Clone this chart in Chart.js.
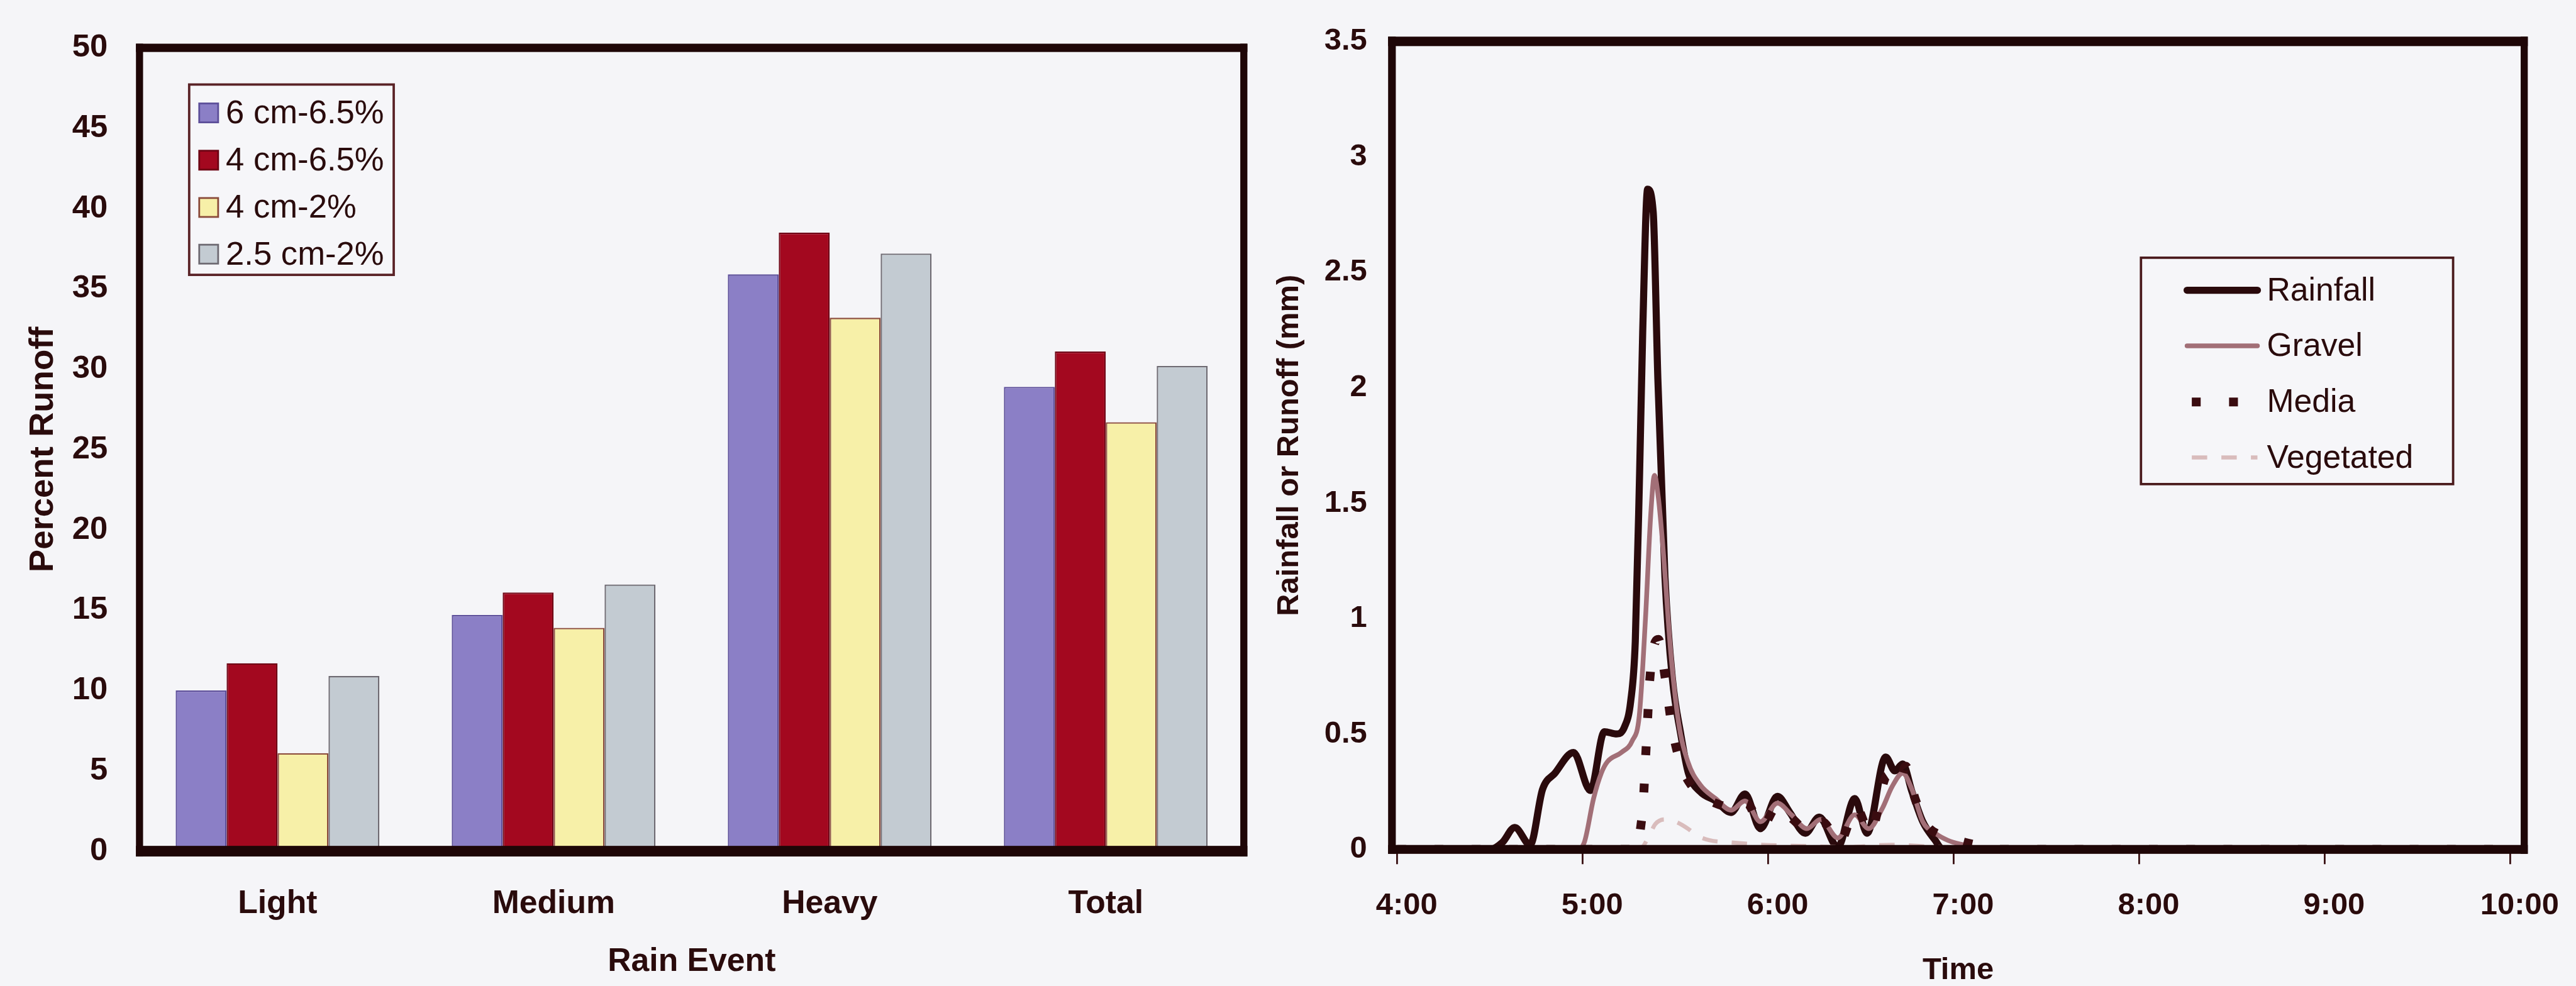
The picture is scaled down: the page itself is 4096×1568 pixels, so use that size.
<!DOCTYPE html>
<html>
<head>
<meta charset="utf-8">
<title>Green roof runoff</title>
<script src="https://cdn.jsdelivr.net/npm/chart.js@4.4.1/dist/chart.umd.min.js"></script>
<style>
  html, body { margin: 0; padding: 0; background: #f5f5f8; overflow: hidden; }
  #wrap { position: relative; width: 4096px; height: 1568px; }
  canvas { position: absolute; top: 0; }
  #runoff { left: 0; }
  #hydro { left: 1983px; }
</style>
</head>
<body>
<div id="wrap">
  <canvas id="runoff" width="2068" height="1568"></canvas>
  <canvas id="hydro" width="2113" height="1568"></canvas>
</div>
<script>
// ---------- data: percent runoff by rain event ----------
const rainEvents = ['Light', 'Medium', 'Heavy', 'Total'];
const roofLabels = ['6 cm-6.5%', '4 cm-6.5%', '4 cm-2%', '2.5 cm-2%'];
const runoff6cm65 = [10.0, 14.7, 35.9, 28.9];
const runoff4cm65 = [11.7, 16.1, 38.5, 31.1];
const runoff4cm2 = [6.1, 13.9, 33.2, 26.7];
const runoff25cm2 = [10.9, 16.6, 37.2, 30.2];
const runoffTicks = [0, 5, 10, 15, 20, 25, 30, 35, 40, 45, 50];

// ---------- data: storm hydrograph (minutes after 4:00, mm) ----------
const rainfallMin = [0, 30, 34, 38, 43, 47, 51, 57, 62.5, 67, 71, 73.5, 75.5, 77, 78.4, 79.4, 81, 82.8, 84.3, 86.6, 89, 91.7, 94.2, 98, 103, 108, 112.5, 117.5, 123, 127, 132, 136.5, 142.5, 148, 152, 158, 161, 163.5, 166.5, 170, 174, 176.5, 360];
const rainfallMm  = [0, 0, 0.03, 0.095, 0.02, 0.26, 0.33, 0.42, 0.255, 0.51, 0.50, 0.53, 0.64, 0.90, 1.63, 2.24, 2.86, 2.76, 2.04, 1.18, 0.74, 0.50, 0.33, 0.25, 0.21, 0.16, 0.24, 0.09, 0.23, 0.16, 0.07, 0.14, 0.01, 0.22, 0.07, 0.40, 0.34, 0.37, 0.25, 0.12, 0.04, 0, 0];

const gravelMin = [0, 58, 60.5, 63.5, 66, 68, 72.5, 76, 78.3, 80.3, 82, 83.2, 84.5, 86, 88.5, 91, 94, 98, 103, 108, 112.5, 117.5, 123, 127.5, 132.5, 137, 142.5, 148, 152.5, 157, 160, 163.5, 166.5, 170, 174, 178, 183, 190, 360];
const gravelMm  = [0, 0, 0.03, 0.22, 0.33, 0.38, 0.42, 0.47, 0.58, 1.0, 1.45, 1.62, 1.52, 1.30, 0.85, 0.55, 0.38, 0.28, 0.22, 0.17, 0.21, 0.12, 0.20, 0.15, 0.09, 0.13, 0.05, 0.15, 0.09, 0.18, 0.27, 0.33, 0.26, 0.12, 0.07, 0.04, 0.02, 0, 0];

const mediaMin = [0, 77.8, 78.4, 79.6, 80.3, 80.9, 81.5, 82.5, 83.5, 84.5, 86.5, 89, 92, 95, 100, 105, 110, 113, 118, 123, 128, 133, 137.5, 143, 148.5, 153, 158.5, 162, 164.5, 167.5, 171, 176, 181, 187, 195, 360];
const mediaMm  = [0, 0, 0.06, 0.21, 0.39, 0.54, 0.70, 0.84, 0.90, 0.91, 0.76, 0.52, 0.36, 0.28, 0.22, 0.19, 0.17, 0.20, 0.10, 0.19, 0.13, 0.08, 0.12, 0.03, 0.18, 0.07, 0.32, 0.28, 0.36, 0.22, 0.11, 0.06, 0.04, 0.02, 0, 0];

const vegetatedMin = [0, 55, 79, 81.5, 83.5, 86.5, 90, 94, 97, 101, 108, 118, 130, 145, 160, 175, 200, 360];
const vegetatedMm  = [0, 0.005, 0.01, 0.06, 0.11, 0.13, 0.12, 0.09, 0.06, 0.04, 0.03, 0.02, 0.015, 0.01, 0.02, 0.01, 0.005, 0];

const hourTicks = [240, 300, 360, 420, 480, 540, 600];
const hourLabels = ['4:00', '5:00', '6:00', '7:00', '8:00', '9:00', '10:00'];
const depthTicks = [0, 0.5, 1, 1.5, 2, 2.5, 3, 3.5];
const depthLabels = ['0', '0.5', '1', '1.5', '2', '2.5', '3', '3.5'];

// ---------- drawing helpers ----------
const S = 0.94;                       // page scale
const px = v => v * S;
const INK = '#2a0b0c';
const FRAME = '#1e0607';
const FAMILY = '"Liberation Sans", Arial, Helvetica, sans-serif';
const bold = size => ({ family: FAMILY, size: px(size), weight: 'bold', lineHeight: 1 });

function frame(widths) {
  return {
    id: 'frame',
    afterDatasetsDraw(chart) {
      const { ctx, chartArea: a } = chart;
      const { top, bottom, left, right } = widths;
      const x0 = a.left - left / 2, x1 = a.right + right / 2;
      const y0 = a.top - top / 2, y1 = a.bottom + bottom / 2;
      ctx.save();
      ctx.fillStyle = FRAME;
      ctx.fillRect(x0, y0, x1 - x0, top);
      ctx.fillRect(x0, a.bottom - bottom / 2, x1 - x0, bottom);
      ctx.fillRect(x0, y0, left, y1 - y0);
      ctx.fillRect(a.right - right / 2, y0, right, y1 - y0);
      ctx.restore();
    }
  };
}

// legend boxed inside the plot of the bar chart
const barLegend = {
  id: 'barLegend',
  afterDraw(chart) {
    const ctx = chart.ctx;
    const bx = px(320), by = px(143), bw = px(346), bh = px(322);
    const rows = [191, 271, 351, 430];
    ctx.save();
    ctx.fillStyle = '#f6f6f9';
    ctx.fillRect(bx, by, bw, bh);
    ctx.strokeStyle = '#5a2226';
    ctx.lineWidth = px(4);
    ctx.strokeRect(bx, by, bw, bh);
    chart.data.datasets.forEach((ds, i) => {
      const cy = px(rows[i]);
      const s = px(32);
      ctx.fillStyle = ds.backgroundColor;
      ctx.fillRect(px(337), cy - s / 2, s, s);
      ctx.strokeStyle = ds.borderColor;
      ctx.lineWidth = px(3);
      ctx.strokeRect(px(337), cy - s / 2, s, s);
      ctx.fillStyle = INK;
      ctx.font = `${px(56)}px ${FAMILY}`;
      ctx.textAlign = 'left';
      ctx.textBaseline = 'middle';
      ctx.fillText(ds.label, px(382), cy + px(2));
    });
    ctx.restore();
  }
};

// legend boxed inside the plot of the hydrograph
const lineLegend = {
  id: 'lineLegend',
  afterDraw(chart) {
    const ctx = chart.ctx;
    const bx = px(1512), by = px(436), bw = px(528), bh = px(383);
    const rows = [491, 585, 680, 774];
    ctx.save();
    ctx.fillStyle = '#f6f6f9';
    ctx.fillRect(bx, by, bw, bh);
    ctx.strokeStyle = '#4a1a1c';
    ctx.lineWidth = px(4);
    ctx.strokeRect(bx, by, bw, bh);
    chart.data.datasets.forEach((ds, i) => {
      const cy = px(rows[i]);
      ctx.save();
      ctx.strokeStyle = ds.borderColor;
      ctx.lineWidth = ds.borderWidth;
      ctx.setLineDash(ds.borderDash || []);
      ctx.lineCap = ds.borderDash ? 'butt' : 'round';
      ctx.beginPath();
      ctx.moveTo(px(ds.borderDash ? 1598 : 1590), cy);
      ctx.lineTo(px(1709), cy);
      ctx.stroke();
      ctx.restore();
      ctx.fillStyle = INK;
      ctx.font = `${px(55)}px ${FAMILY}`;
      ctx.textAlign = 'left';
      ctx.textBaseline = 'middle';
      ctx.fillText(ds.label, px(1725), cy + px(2));
    });
    ctx.restore();
  }
};

// ---------- bar chart: percent runoff ----------
const barSeries = [runoff6cm65, runoff4cm65, runoff4cm2, runoff25cm2];
const barFill = ['#8b7fc6', '#a3081f', '#f7f0a8', '#c3cbd2'];
const barEdge = ['#5d4f9a', '#6e0414', '#8a4a3a', '#6e6a72'];

new Chart(document.getElementById('runoff'), {
  type: 'bar',
  data: {
    labels: rainEvents,
    datasets: barSeries.map((values, i) => ({
      label: roofLabels[i],
      data: values,
      backgroundColor: barFill[i],
      borderColor: barEdge[i],
      borderWidth: px(2.5),
      borderSkipped: 'bottom',
      categoryPercentage: 0.738,
      barPercentage: 1.0
    }))
  },
  options: {
    responsive: false,
    animation: false,
    devicePixelRatio: 1,
    layout: { padding: { left: 0, top: px(69), right: px(2200 - 2104), bottom: 0 } },
    plugins: { legend: { display: false }, tooltip: { enabled: false } },
    scales: {
      x: {
        grid: { display: false, drawTicks: false },
        border: { display: false },
        ticks: { font: bold(55), color: INK, padding: 58.7, maxRotation: 0 },
        title: { display: true, text: 'Rain Event', font: bold(55), color: INK, padding: { top: 0, bottom: 12.7 } },
        afterFit: s => { s.height = 1568 - px(1440); }
      },
      y: {
        min: 0, max: 50,
        afterBuildTicks: s => { s.ticks = runoffTicks.map(v => ({ value: v })); },
        grid: { display: false, drawTicks: false },
        border: { display: false },
        ticks: { font: bold(54), color: INK, padding: 50.7 },
        title: { display: true, text: 'Percent Runoff', font: bold(58), color: INK, padding: { top: 41.3, bottom: 0 } },
        afterFit: s => { s.width = px(236); }
      }
    }
  },
  plugins: [frame({ top: px(14), bottom: px(18), left: px(12), right: px(12) }), barLegend]
});

// ---------- line chart: rainfall and runoff hydrograph ----------
const toPoints = (mins, vals) => mins.map((m, i) => ({ x: 240 + m, y: vals[i] }));
const pxPerMin = (4259 - 2364) / 360;   // reference px per minute

new Chart(document.getElementById('hydro'), {
  type: 'line',
  data: {
    datasets: [
      { label: 'Rainfall', data: toPoints(rainfallMin, rainfallMm), borderColor: '#2a0a0c', borderWidth: px(12), order: 4 },
      { label: 'Gravel', data: toPoints(gravelMin, gravelMm), borderColor: '#a26f77', borderWidth: px(8), order: 3 },
      { label: 'Media', data: toPoints(mediaMin, mediaMm), borderColor: '#3a0c10', borderWidth: px(15), borderDash: [px(15), px(48)], order: 2 },
      { label: 'Vegetated', data: toPoints(vegetatedMin, vegetatedMm), borderColor: '#d9bcbc', borderWidth: px(7), borderDash: [px(26), px(24)], order: 1 }
    ]
  },
  options: {
    responsive: false,
    animation: false,
    devicePixelRatio: 1,
    layout: { padding: { left: 0, top: px(70), right: px(4354 - 4283), bottom: 0 } },
    elements: {
      point: { radius: 0 },
      line: { cubicInterpolationMode: 'monotone', borderJoinStyle: 'round', borderCapStyle: 'butt', fill: false }
    },
    plugins: { legend: { display: false }, tooltip: { enabled: false } },
    scales: {
      x: {
        type: 'linear',
        min: 240 - (2364 - 2355) / pxPerMin,
        max: 600 + (4283 - 4259) / pxPerMin,
        afterBuildTicks: s => { s.ticks = hourTicks.map(v => ({ value: v })); },
        grid: { drawOnChartArea: false, drawTicks: true, tickLength: px(25), color: '#3a1214', lineWidth: px(3) },
        border: { display: false },
        ticks: {
          autoSkip: false, maxRotation: 0,
          callback: v => hourLabels[hourTicks.indexOf(v)],
          font: bold(52), color: INK, padding: 41.4, labelOffset: px(16)
        },
        title: { display: true, text: 'Time', font: bold(52), color: INK, padding: { top: 0, bottom: 0 } },
        afterFit: s => { s.height = 1568 - px(1437); }
      },
      y: {
        min: 0, max: 3.5,
        afterBuildTicks: s => { s.ticks = depthTicks.map(v => ({ value: v })); },
        grid: { display: false, drawTicks: false },
        border: { display: false },
        ticks: {
          font: bold(52), color: INK, padding: 39.5,
          callback: v => depthLabels[depthTicks.indexOf(v)]
        },
        title: { display: true, text: 'Rainfall or Runoff (mm)', font: bold(52), color: INK, padding: { top: 43.3, bottom: 0 } },
        afterFit: s => { s.width = px(2355 - 2110); }
      }
    }
  },
  plugins: [frame({ top: px(16), bottom: px(15), left: px(13), right: px(12) }), lineLegend]
});
</script>
</body>
</html>
